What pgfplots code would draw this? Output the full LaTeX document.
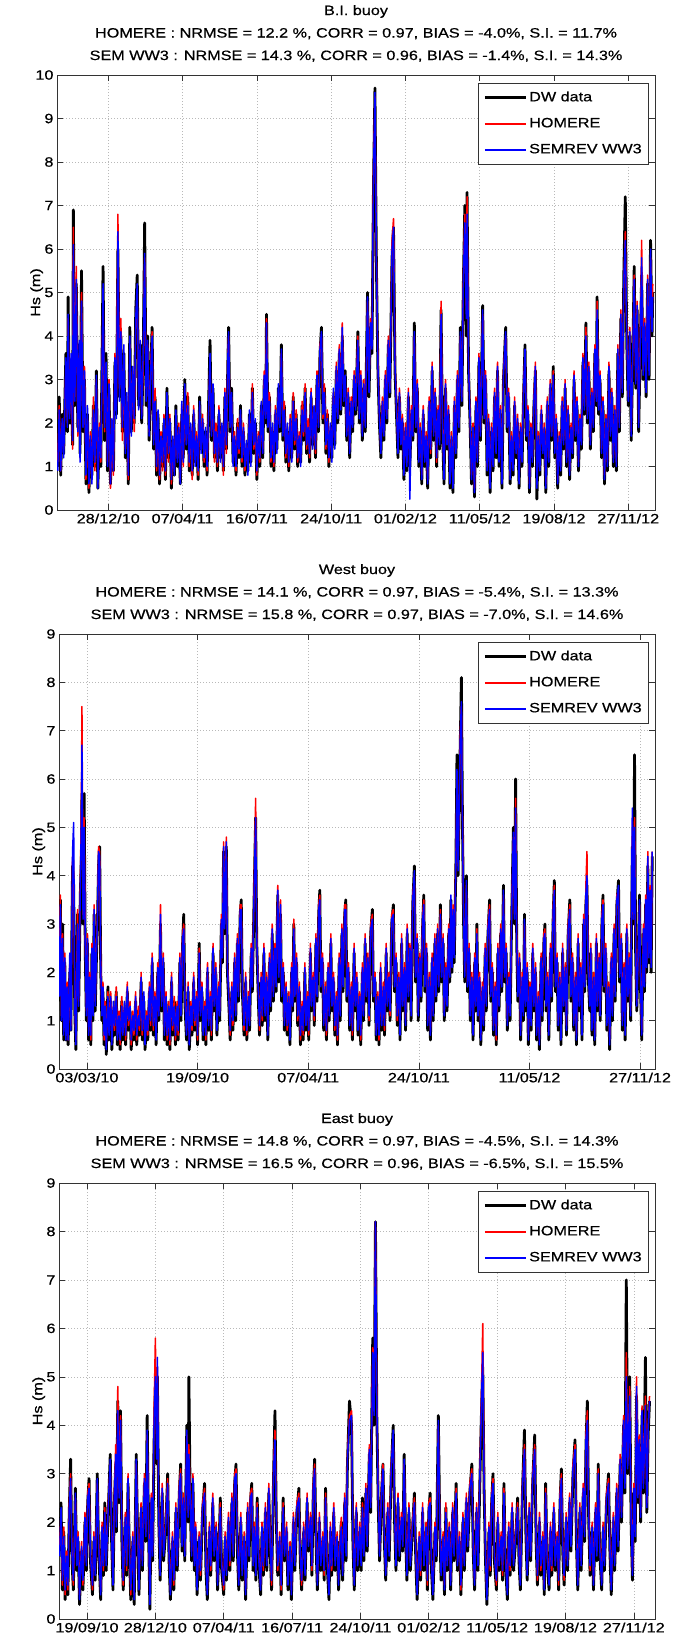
\documentclass[border=0pt]{standalone}
\usepackage{fontspec}
\setmainfont{Liberation Sans}[FakeStretch=1.2, FakeBold=0.6]
\usepackage{pgfplots}
\pgfplotsset{compat=1.18}
\usepackage{pgfplotstable}

\pgfplotstableread{
t dw hom ww3
232 1.0 1.1 0.9
234 2.6 2.4 2.3
236 0.8 0.9 0.9
238 2.2 2.0 2.1
240 1.3 1.4 1.2
243 3.6 3.4 3.5
245 1.8 2.0 1.9
246 4.9 4.4 4.5
248 2.0 2.2 2.1
250 3.0 3.2 3.6
252 1.5 1.4 1.6
253 6.9 6.5 6.1
255 2.4 2.6 2.5
257 5.2 5.6 5.3
259 1.9 1.7 1.8
261 3.8 3.6 3.9
262 1.3 1.2 1.1
264 5.5 5.0 4.8
266 1.8 2.0 1.9
268 3.0 3.3 3.2
270 0.6 0.7 0.8
272 2.2 2.1 2.4
274 0.4 0.5 0.6
276 1.6 1.8 1.7
278 0.8 0.7 0.6
280 2.4 2.6 2.3
282 1.0 0.9 1.1
284 3.2 3.0 3.1
286 0.5 0.6 0.5
288 1.8 2.0 1.9
290 1.0 1.1 1.2
293 5.6 5.0 5.2
295 1.6 1.8 1.9
297 3.6 3.3 3.4
299 0.9 1.1 1.0
301 2.8 3.0 2.9
303 0.6 0.5 0.6
305 1.8 1.9 2.1
307 0.9 0.8 0.9
309 3.4 3.6 3.5
311 2.2 2.4 2.1
313 6.0 6.8 6.4
315 2.6 2.8 2.5
317 4.0 4.4 4.1
319 1.8 1.6 1.9
321 3.6 3.4 3.8
323 1.2 1.4 1.3
325 2.4 2.5 2.7
327 0.6 0.7 0.8
329 4.2 3.8 4.0
331 1.8 2.0 1.7
333 3.0 3.2 3.3
335 2.0 1.8 2.1
337 4.6 4.2 4.4
339 5.4 5.0 5.2
341 2.4 2.6 2.3
343 3.8 3.6 3.9
345 2.0 2.2 2.1
347 3.4 3.2 3.6
349 6.6 5.8 5.9
351 2.4 2.8 2.5
353 4.0 3.8 3.9
355 1.6 1.8 1.7
357 3.0 3.2 3.1
359 4.2 4.1 4.0
361 1.4 1.6 1.5
363 2.6 2.8 2.5
365 0.8 0.9 1.0
367 2.2 2.0 2.3
369 0.6 0.7 0.8
371 1.6 1.8 1.7
373 1.0 0.9 1.1
375 2.0 2.2 2.1
377 0.7 0.8 0.9
379 2.8 2.6 2.7
381 1.2 1.1 1.3
383 2.0 2.2 2.1
385 0.5 0.6 0.7
387 1.6 1.5 1.7
389 0.8 0.9 0.8
391 2.4 2.2 2.3
393 1.0 1.2 1.1
395 1.8 2.0 1.9
397 0.6 0.7 0.6
399 2.2 2.4 2.5
401 1.2 1.0 1.1
403 3.0 2.8 2.9
405 1.4 1.6 1.5
407 2.6 2.7 2.4
409 0.9 1.0 1.1
411 1.8 1.9 2.0
413 0.8 0.7 0.9
415 2.2 2.4 2.3
417 1.1 1.2 1.0
419 1.6 1.8 1.7
421 0.7 0.8 0.9
423 2.6 2.4 2.5
425 1.4 1.5 1.3
427 2.0 2.2 2.1
429 1.0 1.1 1.2
431 1.8 1.7 1.9
433 0.8 0.9 1.0
435 2.4 2.3 2.2
437 3.9 3.4 3.6
439 1.6 1.8 1.7
441 2.8 2.6 2.9
443 1.2 1.1 1.3
445 1.9 2.0 1.8
447 0.9 1.0 1.1
449 2.2 2.4 2.3
451 1.2 1.3 1.1
453 1.8 1.9 2.0
455 0.9 0.8 1.0
457 2.6 2.8 2.7
459 1.4 1.3 1.5
461 3.4 3.6 3.5
462 4.2 4.0 4.1
464 1.8 2.0 1.9
466 2.8 2.6 2.7
468 1.1 1.2 1.0
470 1.6 1.8 1.7
472 0.8 0.9 1.0
474 2.0 2.1 1.9
476 1.2 1.3 1.4
478 2.4 2.2 2.3
480 1.0 1.1 1.2
482 1.8 2.0 1.9
484 0.8 0.9 1.0
486 1.4 1.5 1.6
488 0.9 1.0 0.8
490 2.2 2.1 2.3
492 1.1 1.2 1.0
494 2.8 2.9 2.7
496 1.3 1.4 1.5
498 2.0 1.9 2.1
500 0.7 0.8 0.9
502 1.6 1.8 1.7
504 1.0 1.1 1.2
506 2.4 2.3 2.5
508 1.2 1.4 1.3
510 3.0 3.2 3.1
512 2.0 2.2 2.1
513 4.5 4.4 4.3
515 1.8 2.0 1.9
517 2.6 2.7 2.5
519 1.0 1.1 1.2
521 1.8 1.9 2.0
523 0.9 1.0 1.1
525 2.2 2.4 2.3
527 1.4 1.5 1.3
529 2.8 2.7 2.9
531 1.8 2.0 1.9
533 3.8 3.6 3.7
535 1.6 1.8 1.7
537 2.4 2.5 2.3
539 1.1 1.2 1.3
541 1.8 1.9 2.0
543 0.9 1.0 1.1
545 2.0 2.2 2.1
547 1.2 1.3 1.1
549 2.6 2.7 2.5
551 1.4 1.5 1.6
553 2.2 2.3 2.1
555 1.0 1.1 1.2
557 1.6 1.8 1.7
559 1.1 1.2 1.0
561 2.4 2.5 2.3
563 1.6 1.7 1.8
565 2.8 2.9 2.7
567 1.3 1.4 1.5
569 2.0 2.1 1.9
571 1.1 1.2 1.3
573 2.6 2.8 2.7
575 1.5 1.6 1.4
577 2.2 2.3 2.4
579 1.2 1.3 1.4
581 3.0 3.2 3.1
583 1.8 2.0 1.9
585 3.6 3.8 3.7
587 4.2 4.0 4.1
589 2.0 2.1 2.2
591 2.8 2.9 2.7
593 1.3 1.4 1.5
595 2.2 2.3 2.1
597 1.0 1.1 1.2
599 1.8 1.9 2.0
601 1.2 1.3 1.1
603 2.6 2.7 2.8
605 1.5 1.6 1.4
607 3.2 3.4 3.3
609 2.0 2.2 2.1
611 3.6 3.8 3.7
613 2.2 2.4 2.3
615 4.0 4.3 4.2
617 2.4 2.6 2.5
619 3.2 3.0 3.1
621 1.6 1.8 1.7
623 2.6 2.8 2.7
625 1.2 1.4 1.3
627 2.4 2.6 2.5
629 1.8 2.0 1.9
631 3.0 3.2 3.1
633 2.2 2.4 2.3
636 4.1 4.0 3.9
638 2.0 2.2 2.1
640 3.0 3.2 3.1
642 1.6 1.8 1.7
644 2.8 3.0 2.9
646 1.8 2.0 1.9
649 5.0 4.8 4.9
651 2.6 2.8 2.7
653 4.2 4.4 4.3
655 3.6 3.8 3.7
657 7.4 7.8 7.6
659 9.7 9.5 9.6
661 5.6 5.8 5.7
663 3.2 3.4 3.3
665 2.0 2.2 2.1
667 1.2 1.4 1.3
669 2.4 2.6 2.5
671 1.6 1.8 1.7
673 3.0 3.2 3.1
675 2.0 2.2 2.1
677 3.8 4.0 3.9
679 2.6 2.8 2.7
682 5.8 6.2 6.0
684 6.5 6.7 6.5
686 3.2 3.4 3.3
688 2.2 2.4 2.3
690 1.2 1.4 1.3
692 2.6 2.8 2.7
694 1.4 1.6 1.5
696 2.0 2.2 2.1
698 0.7 0.9 0.8
700 1.8 2.0 1.9
702 0.9 1.1 1.0
704 2.6 2.8 2.7
706 1.0 0.9 0.25
708 2.2 2.4 2.3
710 1.6 1.8 1.7
712 4.3 4.0 4.1
714 1.8 2.0 1.9
716 2.8 3.0 2.9
718 1.0 1.2 1.1
720 1.8 2.0 1.9
722 0.6 0.8 0.7
724 2.2 2.4 2.3
726 1.0 1.2 1.1
728 1.6 1.8 1.7
730 0.5 0.7 0.6
732 2.4 2.6 2.5
734 1.2 1.3 1.4
736 3.2 3.4 3.3
738 1.6 1.8 1.7
740 2.6 2.8 2.7
742 1.0 1.1 1.2
744 2.2 2.4 2.3
746 1.4 1.6 1.5
748 4.6 4.8 4.5
750 1.8 2.0 1.9
752 0.6 0.8 0.7
754 2.8 3.0 2.9
756 1.4 1.6 1.5
758 2.2 2.4 2.3
760 0.5 0.7 0.6
762 1.6 1.8 1.7
764 0.4 0.6 0.5
766 2.4 2.6 2.5
768 1.2 1.4 1.3
770 3.0 3.2 3.1
772 1.8 2.0 1.9
774 4.2 4.0 4.1
776 2.4 2.6 2.5
778 5.2 5.4 5.3
780 7.0 6.8 6.6
782 4.0 4.6 4.4
783 7.3 7.2 6.8
785 3.2 3.4 3.3
787 2.0 2.2 2.1
789 0.6 0.8 0.7
791 1.8 2.0 1.9
793 0.3 0.5 0.4
795 2.4 2.6 2.5
797 1.0 1.2 1.1
799 3.4 3.6 3.5
801 1.6 1.8 1.7
804 4.7 4.5 4.6
806 2.0 2.2 2.1
808 3.0 3.2 3.1
810 0.8 1.0 0.9
812 2.0 2.2 2.1
814 0.4 0.6 0.5
816 1.8 2.0 1.9
818 0.9 1.1 1.0
820 2.6 2.8 2.7
822 1.2 1.4 1.3
824 3.2 3.4 3.3
826 1.0 1.2 1.1
828 2.2 2.4 2.3
830 0.5 0.7 0.6
832 3.0 3.2 3.1
835 4.2 4.0 4.1
837 1.8 2.0 1.9
839 2.6 2.8 2.7
841 0.6 0.8 0.7
843 1.6 1.8 1.7
845 0.8 1.0 0.9
847 2.4 2.6 2.5
849 1.2 1.4 1.3
851 2.0 2.2 2.1
853 0.5 0.7 0.6
855 1.8 2.0 1.9
857 1.0 1.2 1.1
859 2.6 2.8 2.7
861 3.8 3.6 3.7
863 1.6 1.8 1.7
865 2.2 2.4 2.3
867 0.4 0.6 0.5
869 1.8 2.0 1.9
871 1.0 1.2 1.1
873 2.4 2.6 2.5
875 3.2 3.4 3.3
877 0.25 0.6 0.5
879 1.6 1.8 1.7
881 0.8 1.0 0.9
883 2.2 2.4 2.3
885 1.2 1.4 1.3
887 1.8 2.0 1.9
889 0.4 0.6 0.5
891 2.4 2.6 2.5
893 1.0 1.2 1.1
895 2.8 3.0 2.9
897 1.6 1.8 1.7
899 3.3 3.2 3.1
901 1.2 1.4 1.3
903 2.0 2.2 2.1
905 0.5 0.7 0.6
907 1.6 1.8 1.7
909 0.8 1.0 0.9
911 2.4 2.6 2.5
913 1.4 1.6 1.5
915 2.8 3.0 2.9
917 1.0 1.2 1.1
919 2.2 2.4 2.3
921 0.7 0.9 0.8
923 1.8 2.0 1.9
925 1.2 1.4 1.3
927 3.0 3.2 3.1
929 1.6 1.8 1.7
931 2.4 2.6 2.5
933 0.9 1.1 1.0
935 2.0 2.2 2.1
937 1.4 1.6 1.5
939 3.4 3.6 3.5
941 2.2 2.4 2.3
943 4.3 4.2 4.0
945 2.0 2.2 2.1
947 3.2 3.4 3.3
949 1.4 1.6 1.5
951 2.6 2.8 2.7
953 1.8 2.0 1.9
955 3.6 3.8 3.7
957 2.4 2.6 2.5
958 4.9 4.8 4.6
960 2.2 2.4 2.3
962 3.0 3.2 3.1
964 1.2 1.4 1.3
966 2.4 2.6 2.5
968 0.6 0.8 0.7
970 2.0 2.2 2.1
972 0.9 1.1 1.0
974 3.2 3.4 3.3
976 1.6 1.8 1.7
978 2.6 2.8 2.7
980 1.0 1.2 1.1
982 2.2 2.4 2.3
984 0.9 1.1 1.0
986 3.6 3.8 3.7
988 1.8 2.0 1.9
990 4.4 4.6 4.5
992 2.6 2.8 2.7
994 5.4 5.2 5.3
996 7.2 6.4 6.2
998 3.8 4.0 3.9
1000 2.4 2.6 2.5
1002 4.0 4.2 4.1
1004 1.6 1.8 1.7
1006 3.4 3.6 3.5
1008 5.6 5.4 5.3
1010 2.8 3.0 2.9
1012 4.6 4.8 4.7
1014 1.8 2.0 1.9
1016 3.6 3.8 3.7
1018 5.4 6.2 5.8
1020 3.0 3.2 3.1
1022 4.2 4.4 4.3
1024 2.6 2.8 2.7
1026 5.2 5.4 5.3
1028 3.0 3.2 3.1
1030 6.2 5.8 6.0
1032 4.0 4.2 4.1
1033 5.0 5.2 4.9
}\tA

\pgfplotstableread{
t dw hom ww3
-50 1.4 1.6 1.5
-48 3.5 3.6 3.4
-46 1.0 1.1 1.0
-44 3.0 2.8 2.7
-42 0.6 0.8 0.7
-40 2.2 2.4 2.3
-38 0.6 0.7 0.6
-36 1.6 1.8 1.7
-34 0.5 0.6 0.6
-31 2.0 2.2 2.4
-29 0.8 0.9 0.8
-26 4.2 4.4 4.5
-24 3.8 4.3 5.1
-22 1.2 1.4 1.3
-20 0.4 0.6 0.5
-17 3.2 3.3 3.0
-15 1.2 1.4 1.3
-12 3.6 3.8 3.7
-10 4.4 5.6 5.2
-9 5.7 7.5 6.7
-7 3.0 3.2 3.1
-5 5.7 5.2 5.0
-3 2.4 2.6 2.5
-1 1.0 1.2 1.1
1 2.6 2.8 2.7
3 0.6 0.8 0.7
5 1.8 2.0 1.9
7 0.5 0.6 0.7
9 2.4 2.6 2.5
11 1.0 1.2 1.1
13 3.2 3.4 3.3
15 1.2 1.4 1.3
17 2.2 2.4 2.3
19 3.0 3.2 3.1
21 4.2 4.6 4.5
23 4.6 4.5 4.4
25 2.0 2.2 2.1
27 1.0 1.2 1.1
29 1.6 1.8 1.7
31 0.5 0.6 0.7
33 1.2 1.4 1.3
35 0.3 0.5 0.4
38 1.7 1.6 1.5
40 0.6 0.8 0.7
43 1.4 1.6 1.5
45 0.4 0.6 0.5
48 1.2 1.3 1.4
50 0.7 0.8 0.9
53 1.6 1.7 1.5
55 0.5 0.7 0.6
58 1.0 1.2 1.1
60 0.4 0.5 0.6
63 1.4 1.5 1.3
65 0.6 0.8 0.7
68 1.2 1.3 1.4
70 0.5 0.6 0.7
73 1.6 1.8 1.7
75 0.8 0.9 1.0
78 1.2 1.4 1.3
80 0.4 0.5 0.6
83 1.0 1.2 1.1
85 0.6 0.7 0.8
88 1.4 1.6 1.5
90 0.5 0.6 0.7
93 1.2 1.3 1.1
95 0.7 0.8 0.9
98 1.8 2.0 1.9
100 0.6 0.7 0.8
103 1.4 1.5 1.6
105 0.4 0.6 0.5
108 1.0 1.2 1.1
110 0.6 0.7 0.8
113 1.6 1.8 1.7
115 0.8 0.9 1.0
118 2.2 2.4 2.3
120 0.7 0.8 0.9
123 1.4 1.6 1.5
125 0.5 0.7 0.6
128 2.0 2.2 2.1
130 1.0 1.2 1.1
133 3.0 3.4 3.2
135 1.2 1.4 1.3
138 2.2 2.4 2.3
140 0.6 0.8 0.7
143 1.4 1.6 1.5
145 0.5 0.6 0.7
148 1.2 1.4 1.3
150 0.4 0.5 0.6
153 1.8 2.0 1.9
155 0.7 0.8 0.9
158 1.4 1.5 1.3
160 0.5 0.6 0.7
163 1.2 1.4 1.3
165 0.6 0.7 0.8
168 2.2 2.4 2.3
170 1.0 1.2 1.1
173 2.6 2.8 2.7
175 3.2 3.0 2.9
177 1.4 1.6 1.5
180 0.6 0.8 0.7
183 1.6 1.8 1.7
185 0.4 0.6 0.5
188 1.2 1.4 1.3
190 0.7 0.8 0.9
193 1.8 2.0 1.9
195 0.8 0.9 1.0
198 1.4 1.6 1.5
200 0.5 0.6 0.7
203 2.6 2.5 2.4
205 1.0 1.2 1.1
208 1.6 1.8 1.7
210 0.6 0.8 0.7
213 1.2 1.4 1.3
215 0.5 0.6 0.7
218 2.0 2.2 2.1
220 0.8 1.0 0.9
223 1.4 1.6 1.5
225 0.6 0.7 0.8
228 2.4 2.6 2.5
230 1.2 1.4 1.3
233 2.0 2.2 2.1
235 0.7 0.9 0.8
238 1.6 1.8 1.7
240 1.0 1.2 1.1
243 3.0 3.2 3.1
245 2.2 2.4 2.3
247 4.5 4.7 4.6
249 2.8 3.0 2.9
252 4.6 4.8 4.7
254 2.0 2.2 2.1
257 1.2 1.4 1.3
259 0.6 0.7 0.8
262 1.6 1.8 1.7
264 0.8 0.9 1.0
267 2.2 2.4 2.3
269 1.0 1.2 1.1
272 2.6 2.8 2.7
274 1.4 1.6 1.5
277 3.2 3.4 3.3
279 3.5 3.4 3.3
281 1.6 1.8 1.7
284 0.7 0.8 0.9
287 1.8 2.0 1.9
289 0.6 0.7 0.8
292 1.4 1.6 1.5
294 0.8 1.0 0.9
297 2.4 2.6 2.5
299 1.6 1.8 1.7
302 3.4 3.6 3.5
305 5.2 5.6 5.2
307 2.6 2.8 2.7
310 1.4 1.6 1.5
312 0.7 0.8 0.9
315 1.8 2.0 1.9
317 0.9 1.0 1.1
320 2.4 2.6 2.5
322 1.0 1.2 1.1
325 1.8 2.0 1.9
327 0.6 0.8 0.7
330 2.2 2.4 2.3
332 1.2 1.4 1.3
335 2.8 3.0 2.9
337 1.4 1.6 1.5
340 2.4 2.6 2.5
342 1.6 1.8 1.7
345 3.6 3.8 3.7
347 1.8 2.0 1.9
350 3.2 3.5 3.4
352 1.4 1.6 1.5
355 2.0 2.2 2.1
357 0.8 1.0 0.9
360 1.6 1.8 1.7
362 0.7 0.8 0.9
365 1.4 1.6 1.5
367 0.5 0.7 0.6
370 2.0 2.2 2.1
372 1.2 1.4 1.3
374 3.0 3.1 2.9
376 1.4 1.6 1.5
379 2.2 2.4 2.3
381 0.9 1.0 1.1
384 1.6 1.8 1.7
386 0.5 0.6 0.7
389 1.2 1.4 1.3
391 0.6 0.7 0.8
394 2.0 2.2 2.1
396 0.8 1.0 0.9
399 1.4 1.6 1.5
401 0.6 0.7 0.8
404 2.4 2.6 2.5
406 1.2 1.4 1.3
409 1.8 2.0 1.9
411 0.9 1.0 1.1
414 2.6 2.8 2.7
416 1.4 1.6 1.5
419 3.2 3.4 3.3
421 3.7 3.6 3.5
423 1.6 1.8 1.7
426 2.2 2.4 2.3
428 0.8 1.0 0.9
431 1.6 1.8 1.7
433 0.6 0.7 0.8
436 2.0 2.2 2.1
438 1.0 1.2 1.1
441 2.6 2.8 2.7
443 1.2 1.4 1.3
446 1.8 2.0 1.9
448 0.7 0.8 0.9
451 1.4 1.6 1.5
453 0.5 0.6 0.7
456 2.2 2.4 2.3
458 1.0 1.2 1.1
461 2.8 3.0 2.9
463 1.6 1.8 1.7
466 3.2 3.4 3.3
468 3.5 3.4 3.3
470 1.4 1.6 1.5
473 2.0 2.2 2.1
475 0.8 1.0 0.9
478 1.6 1.8 1.7
480 0.6 0.7 0.8
483 2.4 2.6 2.5
485 1.2 1.4 1.3
488 1.8 2.0 1.9
490 0.7 0.9 0.8
493 1.4 1.6 1.5
495 0.5 0.6 0.7
498 2.0 2.2 2.1
500 1.0 1.2 1.1
503 2.6 2.8 2.7
505 1.4 1.6 1.5
508 2.2 2.4 2.3
510 0.9 1.0 1.1
513 2.8 3.0 2.9
516 3.3 3.2 3.1
518 1.4 1.6 1.5
521 1.8 2.0 1.9
523 0.6 0.8 0.7
526 1.4 1.6 1.5
528 0.5 0.6 0.7
531 2.0 2.2 2.1
533 0.8 1.0 0.9
536 1.6 1.8 1.7
538 0.7 0.8 0.9
541 2.4 2.6 2.5
543 1.2 1.4 1.3
546 1.8 2.0 1.9
548 1.0 1.1 1.2
551 3.0 3.2 3.1
554 3.4 3.3 3.2
556 1.6 1.8 1.7
559 2.2 2.4 2.3
561 0.9 1.0 1.1
564 1.8 2.0 1.9
566 0.6 0.8 0.7
569 2.6 2.8 2.7
571 1.2 1.4 1.3
574 2.0 2.2 2.1
576 0.8 1.0 0.9
579 2.8 3.0 2.9
581 1.4 1.6 1.5
584 2.4 2.6 2.5
586 1.0 1.2 1.1
589 3.4 3.6 3.5
592 4.2 4.0 4.1
594 1.8 2.0 1.9
597 2.6 2.8 2.7
599 1.0 1.2 1.1
602 2.2 2.4 2.3
604 1.4 1.6 1.5
607 3.0 3.2 3.1
609 3.6 3.5 3.4
611 1.6 1.8 1.7
614 2.4 2.6 2.5
616 0.8 1.0 0.9
619 1.8 2.0 1.9
621 0.6 0.8 0.7
624 2.2 2.4 2.3
626 1.0 1.2 1.1
629 2.6 2.8 2.7
631 1.4 1.6 1.5
634 2.8 3.0 2.9
636 1.6 1.8 1.7
639 3.4 3.3 3.2
641 1.8 2.0 1.9
644 2.6 2.8 2.7
646 1.0 1.2 1.1
649 2.0 2.2 2.1
651 1.2 1.4 1.3
654 2.8 3.0 2.9
656 1.8 2.0 1.9
658 3.5 3.4 3.6
660 2.0 2.2 2.1
662 3.2 3.4 3.3
664 2.2 2.4 2.3
667 4.2 4.4 4.3
669 6.5 6.0 6.2
671 4.0 4.2 4.1
673 5.4 5.6 5.5
675 6.8 7.0 6.9
677 8.1 7.5 7.6
679 5.0 5.2 5.1
681 3.0 3.2 3.1
683 1.8 2.0 1.9
686 4.0 3.8 3.9
688 1.6 1.8 1.7
691 2.4 2.6 2.5
693 1.0 1.2 1.1
696 1.8 2.0 1.9
698 0.6 0.8 0.7
701 2.2 2.4 2.3
703 1.2 1.4 1.3
705 3.0 2.9 2.8
707 1.0 1.2 1.1
710 1.8 2.0 1.9
712 0.5 0.7 0.6
715 1.6 1.8 1.7
717 0.8 1.0 0.9
720 2.4 2.6 2.5
722 1.2 1.4 1.3
725 2.8 3.0 2.9
728 3.5 3.4 3.3
730 1.4 1.6 1.5
733 2.0 2.2 2.1
735 0.7 0.9 0.8
738 1.6 1.8 1.7
740 0.5 0.6 0.7
743 2.4 2.6 2.5
745 1.2 1.4 1.3
748 2.8 3.0 2.9
750 1.6 1.8 1.7
753 3.8 3.6 3.7
755 1.8 2.0 1.9
758 2.4 2.6 2.5
760 0.8 1.0 0.9
763 1.8 2.0 1.9
765 1.0 1.2 1.1
768 3.2 3.4 3.3
771 5.0 4.8 4.9
773 3.0 3.2 3.1
775 6.0 5.6 5.4
777 2.6 2.8 2.7
779 1.4 1.6 1.5
782 2.2 2.4 2.3
784 0.6 0.8 0.7
787 1.8 2.0 1.9
789 1.0 1.2 1.1
791 3.2 3.0 3.1
793 1.2 1.4 1.3
796 2.0 2.2 2.1
798 0.5 0.7 0.6
801 1.6 1.8 1.7
803 0.8 1.0 0.9
806 2.4 2.6 2.5
808 1.2 1.4 1.3
811 2.0 2.2 2.1
813 0.6 0.8 0.7
816 1.4 1.6 1.5
818 0.4 0.6 0.5
821 2.2 2.4 2.3
823 1.0 1.2 1.1
826 2.6 2.8 2.7
828 3.0 2.9 2.8
830 1.2 1.4 1.3
833 1.8 2.0 1.9
835 0.6 0.8 0.7
838 2.4 2.6 2.5
840 1.4 1.6 1.5
843 3.2 3.4 3.3
845 3.9 3.8 3.7
847 1.6 1.8 1.7
850 2.2 2.4 2.3
852 0.8 1.0 0.9
855 1.8 2.0 1.9
857 0.5 0.7 0.6
860 2.4 2.6 2.5
862 1.2 1.4 1.3
865 2.0 2.2 2.1
867 0.7 0.9 0.8
870 2.8 3.0 2.9
873 3.5 3.4 3.3
875 1.4 1.6 1.5
878 2.2 2.4 2.3
880 0.8 1.0 0.9
883 1.8 2.0 1.9
885 0.5 0.7 0.6
888 2.6 2.8 2.7
890 1.2 1.4 1.3
893 2.0 2.2 2.1
895 0.6 0.8 0.7
898 3.0 3.2 3.1
900 1.6 1.8 1.7
902 3.4 3.8 3.6
904 3.8 4.5 4.0
906 2.0 2.2 2.1
909 1.2 1.4 1.3
911 2.4 2.6 2.5
913 0.7 0.9 0.8
916 1.8 2.0 1.9
918 0.5 0.7 0.6
921 2.6 2.8 2.7
923 1.2 1.4 1.3
926 2.2 2.4 2.3
928 1.0 1.2 1.1
931 3.0 3.2 3.1
933 3.6 3.5 3.4
935 1.6 1.8 1.7
938 2.4 2.6 2.5
940 0.8 1.0 0.9
943 1.6 1.8 1.7
945 0.4 0.6 0.5
948 2.2 2.4 2.3
950 1.0 1.2 1.1
953 2.8 3.0 2.9
955 1.4 1.6 1.5
958 3.4 3.6 3.5
961 3.9 3.7 3.8
963 1.8 2.0 1.9
966 2.6 2.8 2.7
968 0.8 1.0 0.9
971 2.0 2.2 2.1
973 0.6 0.8 0.7
976 2.8 3.0 2.9
978 1.4 1.6 1.5
981 2.2 2.4 2.3
983 1.0 1.2 1.1
986 4.6 5.0 5.4
988 3.0 3.2 3.1
990 6.5 5.2 5.0
992 2.4 2.6 2.5
994 1.2 1.4 1.3
996 2.0 2.2 2.1
999 3.6 3.4 3.5
1001 1.6 1.8 1.7
1003 0.6 0.8 0.7
1006 2.8 3.0 2.9
1008 1.6 1.8 1.7
1010 3.4 3.6 3.5
1012 2.0 2.2 2.1
1014 4.2 4.5 4.4
1016 2.2 2.4 2.3
1018 3.6 3.8 3.7
1020 2.0 2.2 2.1
1022 4.4 4.5 4.5
}\tB

\pgfplotstableread{
t dw hom ww3
160 1.4 1.5 1.3
162 2.4 2.2 2.3
164 0.6 0.7 0.8
166 1.8 1.9 1.7
168 0.4 0.5 0.6
170 1.2 1.4 1.3
172 0.5 0.6 0.7
174 2.2 2.4 2.3
176 3.3 3.0 2.9
178 1.2 1.4 1.3
180 0.6 0.7 0.8
183 2.7 2.5 2.6
185 1.0 1.2 1.1
187 1.6 1.8 1.7
189 0.3 0.5 0.4
192 1.4 1.6 1.5
194 0.6 0.7 0.8
197 2.0 2.2 2.1
199 1.0 1.2 1.1
201 2.4 2.6 2.5
203 2.9 2.8 2.7
205 1.2 1.4 1.3
208 0.5 0.6 0.7
210 1.6 1.8 1.7
212 0.8 1.0 0.9
215 3.0 2.8 2.9
217 1.4 1.6 1.5
220 0.4 0.6 0.5
222 1.8 2.0 1.9
224 0.9 1.0 1.1
226 2.4 2.3 2.2
228 1.0 1.2 1.1
231 2.2 2.4 2.3
234 3.4 3.2 3.3
236 1.6 1.8 1.7
238 0.6 0.8 0.7
240 2.4 2.6 2.5
242 3.2 3.6 3.4
243 1.8 2.0 1.9
245 4.5 4.8 4.3
247 2.4 2.6 2.5
249 4.3 4.2 4.1
251 1.6 1.8 1.7
253 0.6 0.7 0.8
256 2.0 2.2 2.1
258 0.9 1.0 1.1
260 2.8 3.0 2.9
262 1.4 1.6 1.5
264 0.4 0.5 0.6
267 1.6 1.8 1.7
269 0.3 0.5 0.4
272 3.4 3.2 3.3
274 1.8 2.0 1.9
276 0.5 0.7 0.6
279 2.2 2.4 2.3
281 1.0 1.2 1.1
284 2.8 3.0 2.9
286 1.6 1.8 1.7
288 4.2 3.8 3.9
290 1.8 2.0 1.9
292 0.2 0.4 0.3
294 2.4 2.6 2.5
296 1.2 1.4 1.3
298 3.6 4.2 4.0
300 4.8 5.8 5.0
302 3.2 3.4 3.3
303 5.0 5.2 5.4
305 2.0 2.2 2.1
307 0.8 1.0 0.9
310 2.6 2.8 2.7
312 1.2 1.4 1.3
315 1.8 2.0 1.9
318 3.0 2.9 2.8
320 1.2 1.4 1.3
322 0.4 0.6 0.5
325 1.6 1.8 1.7
327 0.6 0.7 0.8
330 2.2 2.4 2.3
332 1.0 1.2 1.1
335 2.6 2.8 2.7
337 3.2 3.1 3.0
339 1.4 1.6 1.5
341 2.4 2.6 2.5
343 1.2 1.4 1.3
346 4.0 3.8 3.9
348 2.0 2.2 2.1
349 5.0 3.6 3.4
351 2.4 2.6 2.5
353 1.2 1.4 1.3
355 2.8 3.0 2.9
357 1.0 1.2 1.1
359 1.8 2.0 1.9
361 0.5 0.7 0.6
364 1.6 1.8 1.7
366 0.8 0.9 1.0
369 2.2 2.4 2.3
372 2.8 2.7 2.6
374 1.0 1.2 1.1
376 0.4 0.6 0.5
379 1.8 2.0 1.9
381 0.9 1.0 1.1
384 2.4 2.6 2.5
386 1.2 1.4 1.3
389 1.8 2.0 1.9
391 0.6 0.8 0.7
393 1.4 1.6 1.5
395 2.5 2.4 2.3
397 1.0 1.2 1.1
400 0.5 0.6 0.7
402 1.6 1.8 1.7
404 0.8 1.0 0.9
407 2.0 2.2 2.1
409 1.0 1.1 1.2
412 2.4 2.6 2.5
414 1.2 1.4 1.3
416 2.8 3.0 2.9
418 3.2 3.1 3.0
420 1.4 1.6 1.5
422 0.6 0.8 0.7
425 2.0 2.2 2.1
427 0.8 1.0 0.9
430 1.6 1.8 1.7
432 0.4 0.6 0.5
435 2.2 2.4 2.3
437 1.2 1.4 1.3
439 2.4 2.6 2.5
441 2.8 2.7 2.6
443 1.0 1.2 1.1
445 1.8 2.0 1.9
447 0.8 1.0 0.9
449 2.5 2.4 2.3
451 1.2 1.4 1.3
454 0.5 0.7 0.6
456 1.8 2.0 1.9
458 0.9 1.0 1.1
461 2.2 2.4 2.3
463 1.0 1.2 1.1
466 2.6 2.8 2.7
468 1.4 1.6 1.5
470 0.6 0.7 0.8
473 3.0 3.2 3.1
475 4.3 3.9 3.7
477 2.0 2.2 2.1
479 0.9 1.0 1.1
482 1.6 1.8 1.7
484 0.5 0.6 0.7
487 2.5 2.4 2.3
489 1.2 1.4 1.3
492 1.8 2.0 1.9
494 0.6 0.8 0.7
497 1.4 1.6 1.5
499 0.4 0.6 0.5
502 2.0 2.2 2.1
504 1.0 1.2 1.1
507 2.2 2.4 2.3
510 2.7 2.6 2.5
512 1.2 1.4 1.3
514 0.6 0.7 0.8
517 1.8 2.0 1.9
519 0.8 1.0 0.9
522 2.4 2.6 2.5
524 1.4 1.6 1.5
527 2.0 2.2 2.1
529 0.9 1.0 1.1
531 2.6 2.8 2.7
533 3.3 3.2 3.1
535 1.6 1.8 1.7
537 0.6 0.8 0.7
540 2.0 2.2 2.1
542 1.0 1.2 1.1
545 1.6 1.8 1.7
547 0.8 0.9 1.0
549 2.7 2.6 2.5
551 1.2 1.4 1.3
554 0.4 0.6 0.5
556 1.8 2.0 1.9
558 0.9 1.0 1.1
561 2.2 2.4 2.3
563 1.0 1.2 1.1
566 1.6 1.8 1.7
568 0.6 0.8 0.7
570 1.4 1.6 1.5
572 2.0 2.1 1.9
574 0.8 1.0 0.9
577 2.4 2.6 2.5
579 1.2 1.4 1.3
581 3.2 3.4 3.3
584 4.5 4.2 4.1
587 4.0 4.3 4.2
589 1.6 1.8 1.7
591 0.6 0.8 0.7
594 2.2 2.4 2.3
596 1.0 1.2 1.1
599 1.8 2.0 1.9
601 1.0 1.2 1.1
603 2.5 2.4 2.3
605 1.2 1.4 1.3
608 2.6 2.8 2.7
610 1.4 1.6 1.5
613 3.4 3.6 3.5
615 2.2 2.4 2.3
618 5.8 5.6 5.5
620 4.0 4.4 4.2
622 8.2 8.2 8.2
624 4.2 4.6 4.4
626 2.4 2.6 2.5
628 1.2 1.4 1.3
631 2.6 2.8 2.7
633 3.2 3.2 3.1
635 1.6 1.8 1.7
637 0.8 1.0 0.9
640 2.2 2.4 2.3
642 1.2 1.4 1.3
645 3.0 3.2 3.1
648 4.0 3.8 3.9
650 2.0 2.2 2.1
652 1.0 1.2 1.1
655 2.4 2.6 2.5
657 1.2 1.4 1.3
660 2.0 2.2 2.1
662 1.4 1.6 1.5
664 3.4 3.2 3.3
666 1.8 2.0 1.9
668 0.8 1.0 0.9
671 2.2 2.4 2.3
673 1.0 1.2 1.1
676 1.8 2.0 1.9
679 2.6 2.5 2.4
681 1.2 1.4 1.3
683 0.4 0.6 0.5
686 1.6 1.8 1.7
688 0.8 0.9 1.0
691 2.2 2.4 2.3
693 1.0 1.2 1.1
696 1.8 2.0 1.9
698 0.6 0.7 0.8
700 2.2 2.4 2.3
702 2.6 2.5 2.4
704 1.0 1.2 1.1
706 0.4 0.6 0.5
709 1.8 2.0 1.9
711 1.2 1.4 1.3
714 4.2 4.0 4.1
716 2.0 2.2 2.1
718 0.8 1.0 0.9
721 1.6 1.8 1.7
723 0.5 0.7 0.6
725 2.3 2.4 2.2
727 1.0 1.2 1.1
730 1.8 2.0 1.9
732 0.6 0.8 0.7
735 2.2 2.4 2.3
737 1.2 1.4 1.3
740 2.8 2.7 2.6
742 1.0 1.2 1.1
745 1.6 1.8 1.7
747 0.5 0.6 0.7
750 2.0 2.2 2.1
752 1.0 1.2 1.1
755 2.4 2.6 2.5
757 1.4 1.6 1.5
760 2.6 2.8 2.7
763 3.2 3.1 3.0
765 1.4 1.6 1.5
767 0.6 0.8 0.7
770 2.2 2.4 2.3
772 1.0 1.2 1.1
775 3.0 3.2 3.1
777 4.2 4.6 4.4
779 5.2 6.1 5.5
781 2.6 2.8 2.7
783 1.2 1.4 1.3
785 0.3 0.5 0.4
788 1.8 2.0 1.9
790 0.9 1.0 1.1
792 2.4 2.6 2.5
794 3.0 2.9 2.8
796 1.2 1.4 1.3
799 0.6 0.7 0.8
801 2.0 2.2 2.1
803 1.0 1.2 1.1
806 1.6 1.8 1.7
808 0.8 0.9 1.0
810 2.8 2.7 2.6
812 1.2 1.4 1.3
815 0.4 0.6 0.5
817 1.8 2.0 1.9
819 0.9 1.0 1.1
822 2.2 2.4 2.3
824 1.0 1.2 1.1
827 1.6 1.8 1.7
830 2.5 2.4 2.3
832 1.2 1.4 1.3
834 0.6 0.8 0.7
837 2.6 2.8 2.7
840 3.9 3.6 3.5
842 1.8 2.0 1.9
844 0.8 1.0 0.9
847 2.2 2.4 2.3
849 1.2 1.4 1.3
852 2.8 3.0 2.9
855 3.8 3.6 3.5
857 1.6 1.8 1.7
859 0.7 0.8 0.9
862 2.0 2.2 2.1
864 0.9 1.0 1.1
867 1.6 1.8 1.7
869 0.5 0.7 0.6
871 2.8 2.7 2.6
873 1.2 1.4 1.3
876 0.6 0.8 0.7
878 1.8 2.0 1.9
880 0.9 1.0 1.1
883 2.2 2.4 2.3
885 1.0 1.2 1.1
888 1.6 1.8 1.7
890 0.6 0.7 0.8
892 2.4 2.6 2.5
894 3.1 3.0 2.9
896 1.4 1.6 1.5
898 0.7 0.8 0.9
901 2.0 2.2 2.1
903 1.0 1.2 1.1
906 2.4 2.6 2.5
908 1.4 1.6 1.5
911 3.0 3.2 3.1
914 3.7 3.6 3.5
916 1.6 1.8 1.7
918 0.6 0.8 0.7
921 2.2 2.4 2.3
923 1.0 1.2 1.1
926 2.6 2.8 2.7
928 1.6 1.8 1.7
930 3.6 3.8 3.7
932 4.5 4.3 4.1
934 2.0 2.2 2.1
936 0.9 1.0 1.1
939 1.8 2.0 1.9
941 0.6 0.8 0.7
944 2.2 2.4 2.3
946 1.2 1.4 1.3
948 3.2 3.1 3.0
950 1.4 1.6 1.5
953 0.6 0.8 0.7
955 1.8 2.0 1.9
957 1.0 1.2 1.1
960 2.4 2.6 2.5
963 3.0 2.9 2.8
965 1.4 1.6 1.5
967 0.5 0.7 0.6
970 2.0 2.2 2.1
972 1.0 1.2 1.1
975 2.6 2.8 2.7
977 1.4 1.6 1.5
980 3.2 3.4 3.3
982 2.0 2.2 2.1
985 4.0 4.2 4.1
987 2.6 2.8 2.7
989 7.0 5.5 5.0
991 3.0 3.2 3.1
994 5.0 4.8 4.6
996 2.0 2.2 2.1
998 0.8 1.0 0.9
1000 2.6 2.8 2.7
1002 1.6 1.8 1.7
1004 4.6 5.0 4.8
1006 2.4 2.6 2.5
1008 3.6 3.8 3.7
1010 2.0 2.2 2.1
1012 4.2 4.4 4.3
1014 2.6 2.8 2.7
1017 5.4 4.6 4.4
1019 2.2 2.4 2.3
1021 3.8 4.0 3.9
1023 4.5 4.6 4.5
}\tC

\pgfplotsset{
  buoy/.style={
    scale only axis, anchor=south west,
    axis line style={black!80, line width=0.7pt},
    tick style={black!80, line width=0.6pt},
    major tick length=6pt,
    tick align=inside,
    grid=major,
    major grid style={gray!55, line width=0.6pt, dash pattern=on 1pt off 2pt},
    ticklabel style={font=\fontsize{13.5}{15}\selectfont},
    /pgf/number format/assume math mode=true,
    ylabel={Hs (m)},
    ylabel style={font=\fontsize{13.5}{15}\selectfont, at={(axis description cs:-0.034,0.5)}, anchor=center},
    legend cell align=left,
    legend style={at={(axis description cs:1,1)}, anchor=north east, xshift=-6pt, yshift=-8pt,
      draw=black!80, line width=0.6pt, fill=white, font=\fontsize{13.5}{15}\selectfont,
      inner xsep=5pt, inner ysep=8pt, row sep=13pt,
      nodes={inner xsep=2pt, inner ysep=0pt, text height=10pt, text depth=3pt}},
    legend image code/.code={\draw[##1] (0pt,0pt) -- (41pt,0pt);},
    ymin=0,
  },
  dwst/.style={black, line width=2.8pt, line join=round},
  homst/.style={red, line width=1.5pt, line join=round},
  wwst/.style={blue, line width=1.5pt, line join=round},
}

\begin{document}
\begin{tikzpicture}
\path[use as bounding box] (0pt,0pt) rectangle (690pt,-1647pt);

% Panel 1
\begin{axis}[buoy, at={(57pt,-510pt)}, width=598pt, height=435pt,
  xmin=231, xmax=1036, ymax=10, ytick={0,1,...,10},
  xtick={300,400,500,600,700,800,900,1000},
  xticklabels={28/12/10,07/04/11,16/07/11,24/10/11,01/02/12,11/05/12,19/08/12,27/11/12}]
\addplot[dwst] table[x=t,y=dw]{\tA};
\addplot[homst] table[x=t,y=hom]{\tA};
\addplot[wwst] table[x=t,y=ww3]{\tA};
\legend{DW data, HOMERE, SEMREV WW3}
\end{axis}

% Panel 2
\begin{axis}[buoy, at={(59pt,-1069pt)}, width=596pt, height=435pt,
  xmin=-50.5, xmax=1027, ymax=9, ytick={0,1,...,9},
  xtick={0,200,400,600,800,1000},
  xticklabels={03/03/10,19/09/10,07/04/11,24/10/11,11/05/12,27/11/12}]
\addplot[dwst] table[x=t,y=dw]{\tB};
\addplot[homst] table[x=t,y=hom]{\tB};
\addplot[wwst] table[x=t,y=ww3]{\tB};
\legend{DW data, HOMERE, SEMREV WW3}
\end{axis}

% Panel 3
\begin{axis}[buoy, at={(59pt,-1619pt)}, width=596pt, height=436pt,
  xmin=159, xmax=1031, ymax=9, ytick={0,1,...,9},
  xtick={200,300,400,500,600,700,800,900,1000},
  xticklabels={19/09/10,28/12/10,07/04/11,16/07/11,24/10/11,01/02/12,11/05/12,19/08/12,27/11/12}]
\addplot[dwst] table[x=t,y=dw]{\tC};
\addplot[homst] table[x=t,y=hom]{\tC};
\addplot[wwst] table[x=t,y=ww3]{\tC};
\legend{DW data, HOMERE, SEMREV WW3}
\end{axis}

\begin{scope}[every node/.style={anchor=base, font=\fontsize{13.5}{15}\selectfont, inner sep=0pt}]
\node at (356pt,-15pt) {B.I. buoy};
\node at (356pt,-37.5pt) {HOMERE : NRMSE = 12.2 \%, CORR = 0.97, BIAS = -4.0\%, S.I. = 11.7\%};
\node at (356pt,-60pt) {SEM WW3 : NRMSE = 14.3 \%, CORR = 0.96, BIAS = -1.4\%, S.I. = 14.3\%};
\node at (357pt,-574pt) {West buoy};
\node at (357pt,-596.5pt) {HOMERE : NRMSE = 14.1 \%, CORR = 0.97, BIAS = -5.4\%, S.I. = 13.3\%};
\node at (357pt,-619pt) {SEM WW3 : NRMSE = 15.8 \%, CORR = 0.97, BIAS = -7.0\%, S.I. = 14.6\%};
\node at (357pt,-1123pt) {East buoy};
\node at (357pt,-1145.5pt) {HOMERE : NRMSE = 14.8 \%, CORR = 0.97, BIAS = -4.5\%, S.I. = 14.3\%};
\node at (357pt,-1168pt) {SEM WW3 : NRMSE = 16.5 \%, CORR = 0.96, BIAS = -6.5\%, S.I. = 15.5\%};
\end{scope}
\end{tikzpicture}
\end{document}
